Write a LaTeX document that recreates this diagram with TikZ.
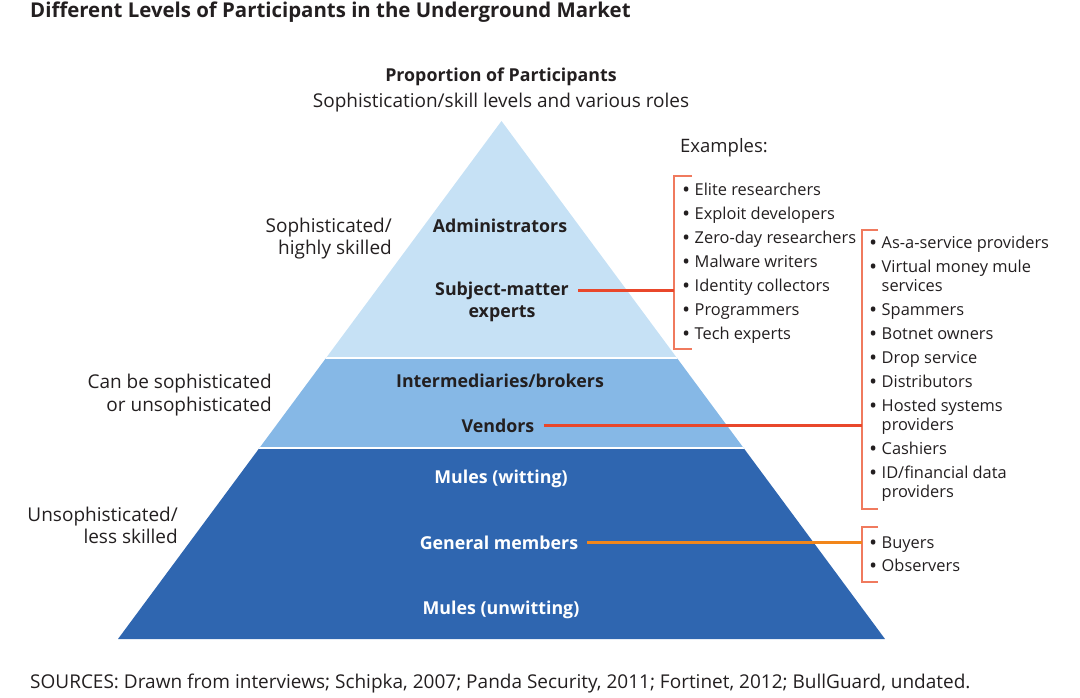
\documentclass[tikz,border=0pt]{standalone}
\usepackage{fontspec}
\setmainfont{Open Sans}
\definecolor{tierA}{HTML}{C6E1F5}
\definecolor{tierB}{HTML}{86B8E6}
\definecolor{tierC}{HTML}{2F66B0}
\definecolor{brk}{HTML}{F07A5E}
\definecolor{connR}{HTML}{E9472B}
\definecolor{connO}{HTML}{F2861A}
\definecolor{ink}{HTML}{231F20}
\newcommand{\bul}{\makebox[11.5pt][l]{\textbf{•}}}
\newcommand{\ind}{\hspace*{11.5pt}}
\begin{document}
\begin{tikzpicture}[x=1pt,y=-1pt,
  base/.style={inner sep=0pt, text=ink, yshift=-2.5pt, font=\fontsize{19}{22}\selectfont},
  txt/.style={base, anchor=mid},
  btxt/.style={base, anchor=mid, font=\fontsize{17.8}{22}\selectfont\bfseries},
  wtxt/.style={btxt, text=white},
  lbl/.style={base, anchor=mid east},
  item/.style={base, anchor=mid west, font=\fontsize{16.4}{19}\selectfont},
  bracket/.style={draw=brk, line width=1.4pt},
  connA/.style={draw=connR, line width=3pt},
  connB/.style={draw=connO, line width=3pt}]
\useasboundingbox (0,0) rectangle (1080,698);
% pyramid
\begin{scope}
\path[clip] (501.5,121) -- (885,639) -- (118,639) -- cycle;
\fill[tierA] (100,100) rectangle (900,358);
\fill[tierB] (100,358) rectangle (900,448);
\fill[tierC] (100,448) rectangle (900,640);
\draw[white, line width=2pt] (100,358) -- (900,358);
\draw[white, line width=2pt] (100,448) -- (900,448);
\end{scope}
% titles
\node[base, anchor=mid west, font=\fontsize{20.4}{24}\selectfont\bfseries] (title) at (30,12) {Different Levels of Participants in the Underground Market};
\node[btxt] (prop) at (501,76) {Proportion of Participants};
\node[txt] (soph) at (501,102) {Sophistication/skill levels and various roles};
\node[base, anchor=mid west, font=\fontsize{18.5}{22}\selectfont] (ex) at (680,147) {Examples:};
\node[base, anchor=mid west] (src) at (30,683) {SOURCES: Drawn from interviews; Schipka, 2007; Panda Security, 2011; Fortinet, 2012; BullGuard, undated.};
% left labels
\node[lbl] (l1a) at (392,227) {Sophisticated/};
\node[lbl] (l1b) at (392,249) {highly skilled};
\node[lbl] (l2a) at (272,383) {Can be sophisticated};
\node[lbl] (l2b) at (272,406) {or unsophisticated};
\node[lbl] (l3a) at (178,516) {Unsophisticated/};
\node[lbl] (l3b) at (178,538) {less skilled};
% pyramid labels
\node[btxt] (adm) at (500,227) {Administrators};
\node[btxt] (sm1) at (502,290) {Subject-matter};
\node[btxt] (sm2) at (502,312) {experts};
\node[btxt] (int) at (500,382) {Intermediaries/brokers};
\node[btxt] (ven) at (498,427) {Vendors};
\node[wtxt] (mw) at (501,478) {Mules (witting)};
\node[wtxt] (gm) at (499,544) {General members};
\node[wtxt] (mu) at (501,609) {Mules (unwitting)};
% list 1
\node[item] (a1) at (683,190) {\bul Elite researchers};
\node[item] (a2) at (683,214) {\bul Exploit developers};
\node[item] (a3) at (683,238) {\bul Zero-day researchers};
\node[item] (a4) at (683,262) {\bul Malware writers};
\node[item] (a5) at (683,286) {\bul Identity collectors};
\node[item] (a6) at (683,310) {\bul Programmers};
\node[item] (a7) at (683,334) {\bul Tech experts};
% list 2
\node[item] (b1) at (870,243) {\bul As-a-service providers};
\node[item] (b2) at (870,267) {\bul Virtual money mule};
\node[item] (b2c) at (870,286) {\ind services};
\node[item] (b3) at (870,310) {\bul Spammers};
\node[item] (b4) at (870,334) {\bul Botnet owners};
\node[item] (b5) at (870,358) {\bul Drop service};
\node[item] (b6) at (870,382) {\bul Distributors};
\node[item] (b7) at (870,406) {\bul Hosted systems};
\node[item] (b7c) at (870,425) {\ind providers};
\node[item] (b8) at (870,449) {\bul Cashiers};
\node[item] (b9) at (870,473) {\bul ID/financial data};
\node[item] (b9c) at (870,492) {\ind providers};
% list 3
\node[item] (c1) at (870,543) {\bul Buyers};
\node[item] (c2) at (870,566) {\bul Observers};
% brackets
\coordinate (k1t) at (674,176);
\coordinate (k1b) at (674,349);
\coordinate (k2t) at (862,230);
\coordinate (k2b) at (862,509);
\coordinate (k3t) at (862,527);
\coordinate (k3b) at (862,582);
\draw[bracket] ([xshift=18pt]k1t) -- (k1t) -- (k1b) -- ([xshift=18pt]k1b);
\draw[bracket] ([xshift=16pt]k2t) -- (k2t) -- (k2b) -- ([xshift=16pt]k2b);
\draw[bracket] ([xshift=16pt]k3t) -- (k3t) -- (k3b) -- ([xshift=16pt]k3b);
% connectors
\draw[connA] ([xshift=9pt]sm1.east) -- (k1t |- sm1.east);
\draw[connA] ([xshift=9pt]ven.east) -- (k2t |- ven.east);
\draw[connB] ([xshift=9pt]gm.east) -- (k3t |- gm.east);
\end{tikzpicture}
\end{document}
